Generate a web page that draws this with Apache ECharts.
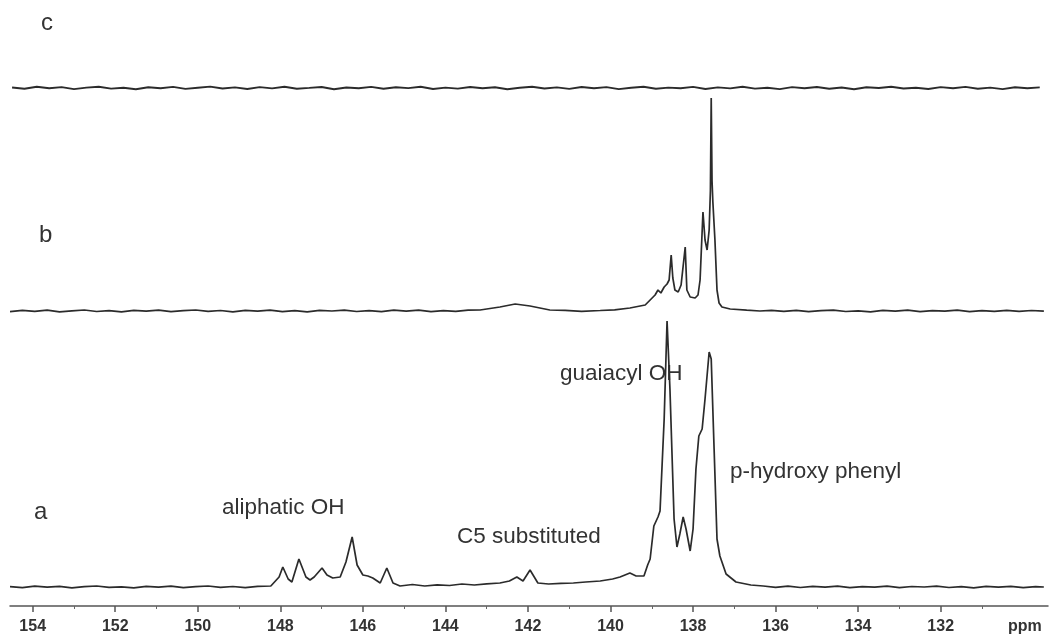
<!DOCTYPE html>
<html>
<head>
<meta charset="utf-8">
<script src="https://cdn.jsdelivr.net/npm/echarts@6/dist/echarts.min.js"></script>
<style>
  html, body { margin: 0; padding: 0; background: #ffffff; }
  #chart { width: 1057px; height: 638px; }
</style>
</head>
<body>
<div id="chart"></div>
<script>
// ---- Data (ppm, intensity relative to each trace's own baseline) ----
const TRACE_A = [
  [154.55,0.3],[154.25,-0.6],[153.95,0.8],[153.65,-0.2],[153.35,0.6],[153.05,-0.8],[152.75,0.3],[152.45,1.0],
  [152.15,-0.4],[151.85,0.2],[151.55,-0.9],[151.25,0.6],[150.95,-0.1],[150.65,0.9],[150.35,-0.6],[150.05,0.3],
  [149.75,1.0],[149.45,-0.3],[149.15,0.5],[148.85,-0.7],[148.55,0.6],[148.23,1],
  [148.03,10],[147.94,20],[147.81,8],[147.72,5],[147.55,28],[147.38,10],[147.28,7],[147.18,10],
  [146.99,19],[146.87,12],[146.73,9],[146.55,10],[146.41,25],[146.26,50],[146.14,22],[146.00,12],
  [145.88,11],[145.76,9],[145.58,4],[145.42,19],[145.27,4],[145.10,1],
  [144.8,2.5],[144.5,1],[144.2,2.2],[143.9,1.5],[143.6,3],[143.3,2],[143.0,3.2],[142.68,4],
  [142.45,6],[142.27,10],[142.12,6],[141.95,17],[141.76,4],[141.5,3],[141.2,3.6],[140.9,4],
  [140.6,5],[140.25,6],[139.95,8],[139.77,10],[139.53,14],[139.38,11],[139.19,11],[139.10,22],
  [139.04,28],[138.95,61],[138.85,70],[138.80,76],[138.70,168],[138.63,266],[138.56,198],[138.46,68],
  [138.39,40],[138.32,53],[138.24,70],[138.17,58],[138.07,36],[138.00,58],[137.93,118],[137.86,151],
  [137.78,158],[137.71,188],[137.61,235],[137.56,228],[137.49,138],[137.42,48],[137.35,31],[137.20,13],
  [136.96,5],[136.6,2],[136.3,1],[136.0,-0.3],[135.7,0.8],[135.4,-0.5],[135.1,0.6],[134.8,-0.2],
  [134.5,0.9],[134.2,-0.6],[133.9,0.4],[133.6,-0.1],[133.3,0.8],[133.0,-0.7],[132.7,0.5],[132.4,0.0],
  [132.1,0.9],[131.8,-0.5],[131.5,0.3],[131.2,-0.8],[130.9,0.6],[130.6,-0.2],[130.3,0.7],[130.0,-0.6],
  [129.7,0.4],[129.5,0.0]
];

const TRACE_B = [
  [154.55,-0.6],[154.25,0.7],[153.95,-0.3],[153.65,0.9],[153.35,-0.8],[153.05,0.2],[152.75,1.0],[152.45,-0.5],
  [152.15,0.4],[151.85,-0.9],[151.55,0.6],[151.25,-0.2],[150.95,0.9],[150.65,-0.6],[150.35,0.3],[150.05,1.0],
  [149.75,-0.4],[149.45,0.5],[149.15,-0.8],[148.85,0.7],[148.55,-0.2],[148.25,0.9],[147.95,-0.6],[147.65,0.3],
  [147.35,-0.9],[147.05,0.6],[146.75,0.0],[146.45,0.9],[146.15,-0.5],[145.85,0.4],[145.55,-0.7],[145.25,0.8],
  [144.95,-0.1],[144.65,0.9],[144.35,-0.6],[144.05,0.4],[143.75,-0.3],[143.45,0.9],[143.16,1],
  [142.68,4],[142.31,7],[141.95,5],[141.47,1],[141.1,0.6],[140.7,-0.3],[140.25,0.5],[139.9,1.2],
  [139.53,3],[139.16,6],[139.04,11],[138.92,16],[138.85,21],[138.78,18],[138.70,24],[138.63,27],
  [138.58,31],[138.53,56],[138.49,33],[138.44,21],[138.36,19],[138.29,26],[138.19,64],[138.15,21],
  [138.07,14],[137.95,13],[137.88,16],[137.83,31],[137.76,99],[137.71,71],[137.66,61],[137.61,81],
  [137.58,120],[137.56,213],[137.54,130],[137.52,109],[137.47,71],[137.42,21],[137.37,8],[137.30,4],
  [137.10,2],[136.7,0.8],[136.38,0],[136.1,0.7],[135.8,-0.4],[135.5,0.6],[135.2,-0.7],[134.9,0.3],
  [134.6,0.9],[134.3,-0.5],[134.0,0.2],[133.7,-0.8],[133.4,0.6],[133.1,-0.1],[132.8,0.8],[132.5,-0.6],
  [132.2,0.4],[131.9,-0.2],[131.6,0.9],[131.3,-0.7],[131.0,0.3],[130.7,-0.4],[130.4,0.7],[130.1,-0.3],
  [129.8,0.5],[129.5,-0.2]
];

const TRACE_C = [
  [154.5,0.5],[154.2,-0.8],[153.9,1.2],[153.6,-0.3],[153.3,0.9],[153.0,-1.1],[152.7,0.4],[152.4,1.3],
  [152.1,-0.6],[151.8,0.2],[151.5,-1.2],[151.2,0.8],[150.9,-0.2],[150.6,1.1],[150.3,-0.9],[150.0,0.3],
  [149.7,1.4],[149.4,-0.5],[149.1,0.6],[148.8,-1.0],[148.5,0.9],[148.2,-0.4],[147.9,1.2],[147.6,-0.7],
  [147.3,0.1],[147.0,1.0],[146.7,-1.3],[146.4,0.5],[146.1,-0.2],[145.8,1.1],[145.5,-0.8],[145.2,0.7],
  [144.9,-0.1],[144.6,1.3],[144.3,-1.0],[144.0,0.4],[143.7,-0.6],[143.4,1.0],[143.1,-0.3],[142.8,0.8],
  [142.5,-1.2],[142.2,0.2],[141.9,1.2],[141.6,-0.5],[141.3,0.6],[141.0,-0.9],[140.7,1.0],[140.4,-0.2],
  [140.1,0.9],[139.8,-1.1],[139.5,0.3],[139.2,1.3],[138.9,-0.7],[138.6,0.4],[138.3,-0.3],[138.0,1.1],
  [137.7,-1.0],[137.4,0.6],[137.1,-0.4],[136.8,1.2],[136.5,-0.6],[136.2,0.2],[135.9,-1.1],[135.6,0.9],
  [135.3,-0.2],[135.0,1.0],[134.7,-0.8],[134.4,0.5],[134.1,-1.2],[133.8,0.7],[133.5,0.0],[133.2,1.2],
  [132.9,-0.5],[132.6,0.3],[132.3,-1.0],[132.0,0.9],[131.7,-0.3],[131.4,1.1],[131.1,-0.7],[130.8,0.4],
  [130.5,-1.1],[130.2,0.8],[129.9,-0.2],[129.6,0.6]
];

// vertical stacking offsets of the three spectra
const OFFSET_A = 19;
const OFFSET_B = 295;
const OFFSET_C = 518;

const MAJOR_TICKS = [154,152,150,148,146,144,142,140,138,136,134,132];
const MINOR_TICKS = [153,151,149,147,145,143,141,139,137,135,133,131];
const UNIT_LABEL = 'ppm';
const UNIT_POS = 129.96;

const TRACE_LABELS = ['a','b','c'];
const PEAK_LABELS = ['aliphatic OH','C5 substituted','guaiacyl OH','p-hydroxy phenyl'];

// ---- Chart ----
const chart = echarts.init(document.getElementById('chart'), null, {renderer: 'canvas'});
const LINE_COLOR = '#2b2b2b';
function shifted(trace, off) { return trace.map(p => [p[0], p[1] + off]); }

const annFont = '22.5px "Liberation Sans", Arial, sans-serif';
const letterFont = '24px "Liberation Sans", Arial, sans-serif';

chart.setOption({
  animation: false,
  backgroundColor: '#ffffff',
  grid: { left: 10, right: 9, top: 0, bottom: 32, containLabel: false },
  xAxis: [
    {
      type: 'value', inverse: true, min: 129.4, max: 154.55,
      splitLine: { show: false },
      axisLine: { show: true, lineStyle: { color: '#555', width: 1.5 } },
      axisTick: { show: true, customValues: MAJOR_TICKS, length: 6, lineStyle: { color: '#555', width: 1.5 } },
      axisLabel: {
        show: true, customValues: MAJOR_TICKS.concat([UNIT_POS]), margin: 13,
        fontFamily: '"Liberation Sans", Arial, sans-serif', fontWeight: 'bold', fontSize: 16, color: '#333',
        formatter: v => (Math.abs(v - UNIT_POS) < 1e-6 ? UNIT_LABEL : String(v))
      }
    },
    {
      type: 'value', inverse: true, min: 129.4, max: 154.55, position: 'bottom',
      splitLine: { show: false },
      axisLine: { show: false },
      axisTick: { show: true, customValues: MINOR_TICKS, length: 3, lineStyle: { color: '#666', width: 1 } },
      axisLabel: { show: false }
    }
  ],
  yAxis: { type: 'value', min: 0, max: 606, show: false, splitLine: { show: false } },
  series: [
    { type: 'line', data: shifted(TRACE_A, OFFSET_A), showSymbol: false, clip: false,
      lineStyle: { color: LINE_COLOR, width: 1.7 } },
    { type: 'line', data: shifted(TRACE_B, OFFSET_B), showSymbol: false, clip: false,
      lineStyle: { color: LINE_COLOR, width: 1.7 } },
    { type: 'line', data: shifted(TRACE_C, OFFSET_C), showSymbol: false, clip: false,
      lineStyle: { color: LINE_COLOR, width: 1.9 } }
  ],
  graphic: [
    { type: 'text', left: 34, top: 500, style: { text: TRACE_LABELS[0], font: letterFont, fill: '#333' } },
    { type: 'text', left: 39, top: 223, style: { text: TRACE_LABELS[1], font: letterFont, fill: '#333' } },
    { type: 'text', left: 41, top: 11,  style: { text: TRACE_LABELS[2], font: letterFont, fill: '#333' } },
    { type: 'text', left: 222, top: 496, style: { text: PEAK_LABELS[0], font: annFont, fill: '#333' } },
    { type: 'text', left: 457, top: 525, style: { text: PEAK_LABELS[1], font: annFont, fill: '#333' } },
    { type: 'text', left: 560, top: 362, style: { text: PEAK_LABELS[2], font: annFont, fill: '#333' } },
    { type: 'text', left: 730, top: 460, style: { text: PEAK_LABELS[3], font: annFont, fill: '#333' } }
  ]
});
</script>
</body>
</html>
